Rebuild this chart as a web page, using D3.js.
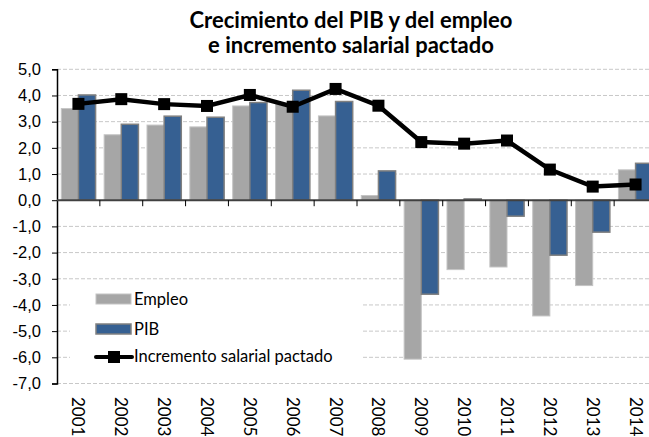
<!DOCTYPE html>
<html>
<head>
<meta charset="utf-8">
<script src="https://cdn.jsdelivr.net/npm/d3@7"></script>
<style>
  body { margin: 0; background: #fff; }
  svg { display: block; font-family: Lato, "Open Sans", sans-serif; }
</style>
</head>
<body>
<div id="chart"></div>
<script>
const years = ["2001","2002","2003","2004","2005","2006","2007","2008","2009","2010","2011","2012","2013","2014"];
const empleo = [3.5, 2.5, 2.87, 2.8, 3.6, 3.7, 3.22, 0.18, -6.07, -2.65, -2.55, -4.42, -3.26, 1.16];
const pib = [4.02, 2.9, 3.21, 3.17, 3.73, 4.2, 3.77, 1.12, -3.59, 0.05, -0.61, -2.1, -1.22, 1.41];
const salarial = [3.68, 3.86, 3.67, 3.6, 4.02, 3.57, 4.25, 3.61, 2.22, 2.16, 2.28, 1.17, 0.52, 0.6];
const yTicks = [5, 4, 3, 2, 1, 0, -1, -2, -3, -4, -5, -6, -7];

const width = 649, height = 437;
const plotLeft = 57, plotRight = 657, plotTop = 69.3, plotBottom = 383.5;

const svg = d3.select("#chart").append("svg")
  .attr("width", width)
  .attr("height", height);

const x = d3.scaleBand().domain(years).range([plotLeft, plotRight]);
const y = d3.scaleLinear().domain([-7, 5]).range([plotBottom, plotTop]);
const fmt = d => d3.format(".1f")(d).replace(".", ",").replace("−", "-");

// title
svg.append("text")
  .attr("x", 351).attr("y", 28)
  .attr("text-anchor", "middle")
  .style("font-weight", "bold").style("font-size", "22px")
  .text("Crecimiento del PIB y del empleo");
svg.append("text")
  .attr("x", 351).attr("y", 53)
  .attr("text-anchor", "middle")
  .style("font-weight", "bold").style("font-size", "22px")
  .text("e incremento salarial pactado");

// gridlines
svg.append("g")
  .selectAll("line")
  .data(yTicks.filter(d => d !== 0))
  .enter().append("line")
  .attr("x1", plotLeft).attr("x2", width)
  .attr("y1", d => y(d)).attr("y2", d => y(d))
  .attr("stroke", "#c8c8c8")
  .attr("stroke-dasharray", "4,2");

const bw = x.bandwidth();

// empleo bars
svg.append("g")
  .selectAll("rect")
  .data(empleo)
  .enter().append("rect")
  .attr("x", (d, i) => x(years[i]) + bw * 0.1)
  .attr("width", bw * 0.4)
  .attr("y", d => y(Math.max(0, d)))
  .attr("height", d => Math.abs(y(d) - y(0)))
  .attr("fill", "#a6a6a6")
  .attr("stroke", "#c4c4c4")
  .attr("stroke-width", 1);

// pib bars
svg.append("g")
  .selectAll("rect")
  .data(pib)
  .enter().append("rect")
  .attr("x", (d, i) => x(years[i]) + bw * 0.5)
  .attr("width", bw * 0.4)
  .attr("y", d => y(Math.max(0, d)))
  .attr("height", d => Math.abs(y(d) - y(0)))
  .attr("fill", "#366092")
  .attr("stroke", "#808080")
  .attr("stroke-width", 1.5);

// y axis
const yAxis = d3.axisLeft(y).tickValues(yTicks).tickSize(5).tickFormat(fmt);
const gy = svg.append("g")
  .attr("transform", "translate(" + plotLeft + ",0)")
  .call(yAxis);
gy.select(".domain").attr("stroke", "#000").attr("stroke-width", 1.5);
gy.selectAll(".tick line").attr("stroke", "#000");
gy.selectAll(".tick text")
  .attr("x", -16)
  .style("font-size", "16.5px")
  .attr("fill", "#000");

// x axis at zero
const gx = svg.append("g")
  .attr("transform", "translate(0," + y(0) + ")");
gx.append("line")
  .attr("x1", plotLeft).attr("x2", width)
  .attr("stroke", "#404040").attr("stroke-width", 2);
gx.selectAll(".tk")
  .data(years.slice(1))
  .enter().append("line")
  .attr("class", "tk")
  .attr("x1", d => x(d)).attr("x2", d => x(d))
  .attr("y1", 0).attr("y2", 6)
  .attr("stroke", "#000");

// year labels
svg.append("g")
  .selectAll("text")
  .data(years)
  .enter().append("text")
  .attr("transform", d => "translate(" + (x(d) + bw / 2) + ",397) rotate(90)")
  .attr("dy", "0.35em")
  .style("font-size", "17px")
  .text(d => d);

// line
const line = d3.line()
  .x((d, i) => x(years[i]) + bw / 2)
  .y(d => y(d));
svg.append("path")
  .datum(salarial)
  .attr("d", line)
  .attr("fill", "none")
  .attr("stroke", "#000")
  .attr("stroke-width", 4.5);
svg.append("g")
  .selectAll("rect")
  .data(salarial)
  .enter().append("rect")
  .attr("x", (d, i) => x(years[i]) + bw / 2 - 6)
  .attr("y", d => y(d) - 6)
  .attr("width", 12).attr("height", 12)
  .attr("fill", "#000");

// legend
const lg = svg.append("g");
lg.append("rect")
  .attr("x", 70).attr("y", 284)
  .attr("width", 293).attr("height", 88)
  .attr("fill", "#fff");
lg.append("rect")
  .attr("x", 96).attr("y", 294)
  .attr("width", 35).attr("height", 10)
  .attr("fill", "#a6a6a6").attr("stroke", "#c4c4c4");
lg.append("text").attr("x", 134).attr("y", 305).style("font-size", "16.5px").text("Empleo");
lg.append("rect")
  .attr("x", 96).attr("y", 324)
  .attr("width", 35).attr("height", 10)
  .attr("fill", "#366092").attr("stroke", "#808080").attr("stroke-width", 1.5);
lg.append("text").attr("x", 134).attr("y", 335).style("font-size", "16.5px").text("PIB");
lg.append("line")
  .attr("x1", 96).attr("x2", 132).attr("y1", 357).attr("y2", 357)
  .attr("stroke", "#000").attr("stroke-width", 4).attr("stroke-linecap", "round");
lg.append("rect")
  .attr("x", 108).attr("y", 351).attr("width", 12).attr("height", 12)
  .attr("fill", "#000");
lg.append("text").attr("x", 134).attr("y", 362).style("font-size", "16.5px").text("Incremento salarial pactado");
</script>
</body>
</html>
